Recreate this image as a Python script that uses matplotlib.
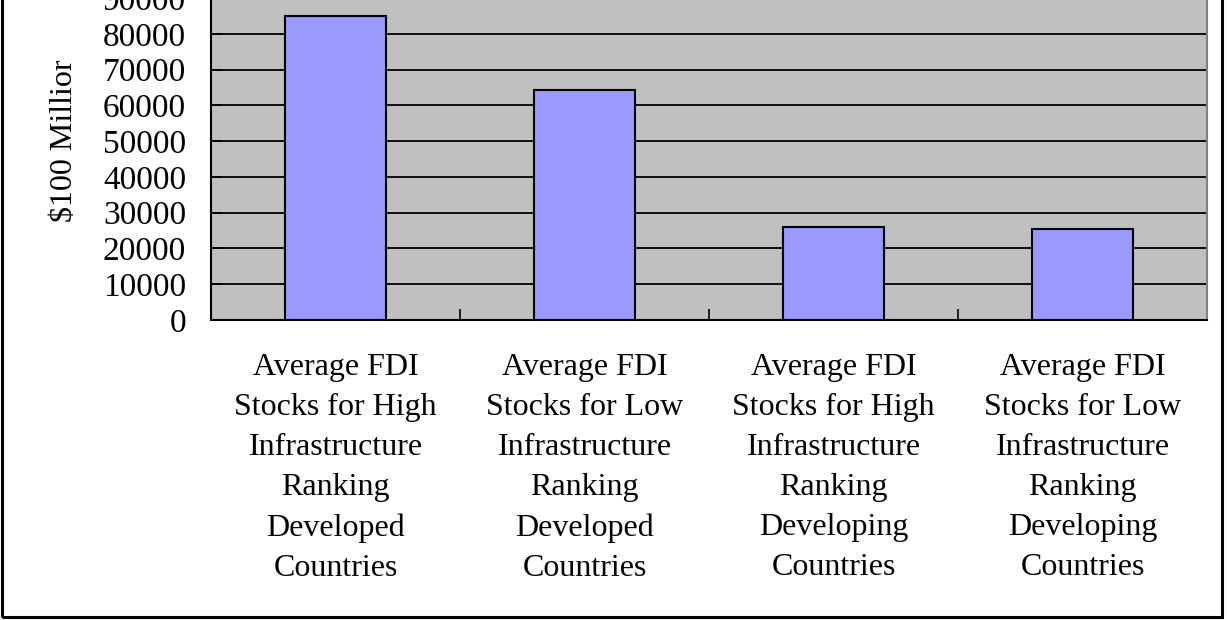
import matplotlib
matplotlib.use("Agg")
import matplotlib.pyplot as plt
from matplotlib.patches import Rectangle

categorias = [
    "Average FDI\nStocks for High\nInfrastructure\nRanking\nDeveloped\nCountries",
    "Average FDI\nStocks for Low\nInfrastructure\nRanking\nDeveloped\nCountries",
    "Average FDI\nStocks for High\nInfrastructure\nRanking\nDeveloping\nCountries",
    "Average FDI\nStocks for Low\nInfrastructure\nRanking\nDeveloping\nCountries",
]
estoques = [85000, 64200, 25900, 25400]
yticks = list(range(0, 100001, 10000))

plt.rcParams["font.family"] = ["Liberation Serif", "DejaVu Serif"]

fig = plt.figure(figsize=(12.27, 6.2), dpi=100)
ax = fig.add_axes([0.172, 0.4839, 0.9837 - 0.172, 0.5766])
ax.set_facecolor("#C0C0C0")

pos = list(range(len(categorias)))
ax.bar(pos, estoques, width=0.405, color="#9999FF", edgecolor="black", linewidth=1.5, zorder=3)

ax.set_xlim(-0.5, len(categorias) - 0.5)
ax.set_ylim(0, 100000)
ax.set_yticks(yticks)
ax.set_yticklabels([str(v) for v in yticks])
ax.yaxis.grid(True, color="black", linewidth=1.3, zorder=1)
ax.set_axisbelow(True)

ax.set_xticks(pos)
ax.set_xticklabels(categorias, fontsize=23, linespacing=1.5)
ax.set_xticks([0.5, 1.5, 2.5], minor=True)
ax.tick_params(axis="x", which="major", length=0, pad=24)
ax.tick_params(axis="x", which="minor", direction="in", length=8, width=1.2, color="black")
ax.tick_params(axis="y", direction="in", length=8, width=1.2, labelsize=24, pad=18)

ax.set_ylabel("$100 Millior", fontsize=23, labelpad=5)

for lado in ["left", "bottom"]:
    ax.spines[lado].set_color("black")
    ax.spines[lado].set_linewidth(1.5)
ax.spines["right"].set_color("#808080")
ax.spines["right"].set_linewidth(1.5)
ax.spines["top"].set_visible(False)

# moldura da figura (topo fica fora da imagem)
fig.patches.append(Rectangle((0.002, 0.005), 0.996 - 0.002, 1.1, transform=fig.transFigure,
                             fill=False, edgecolor="black", linewidth=2.2, clip_on=False))

fig.savefig("out.png", dpi=100)
